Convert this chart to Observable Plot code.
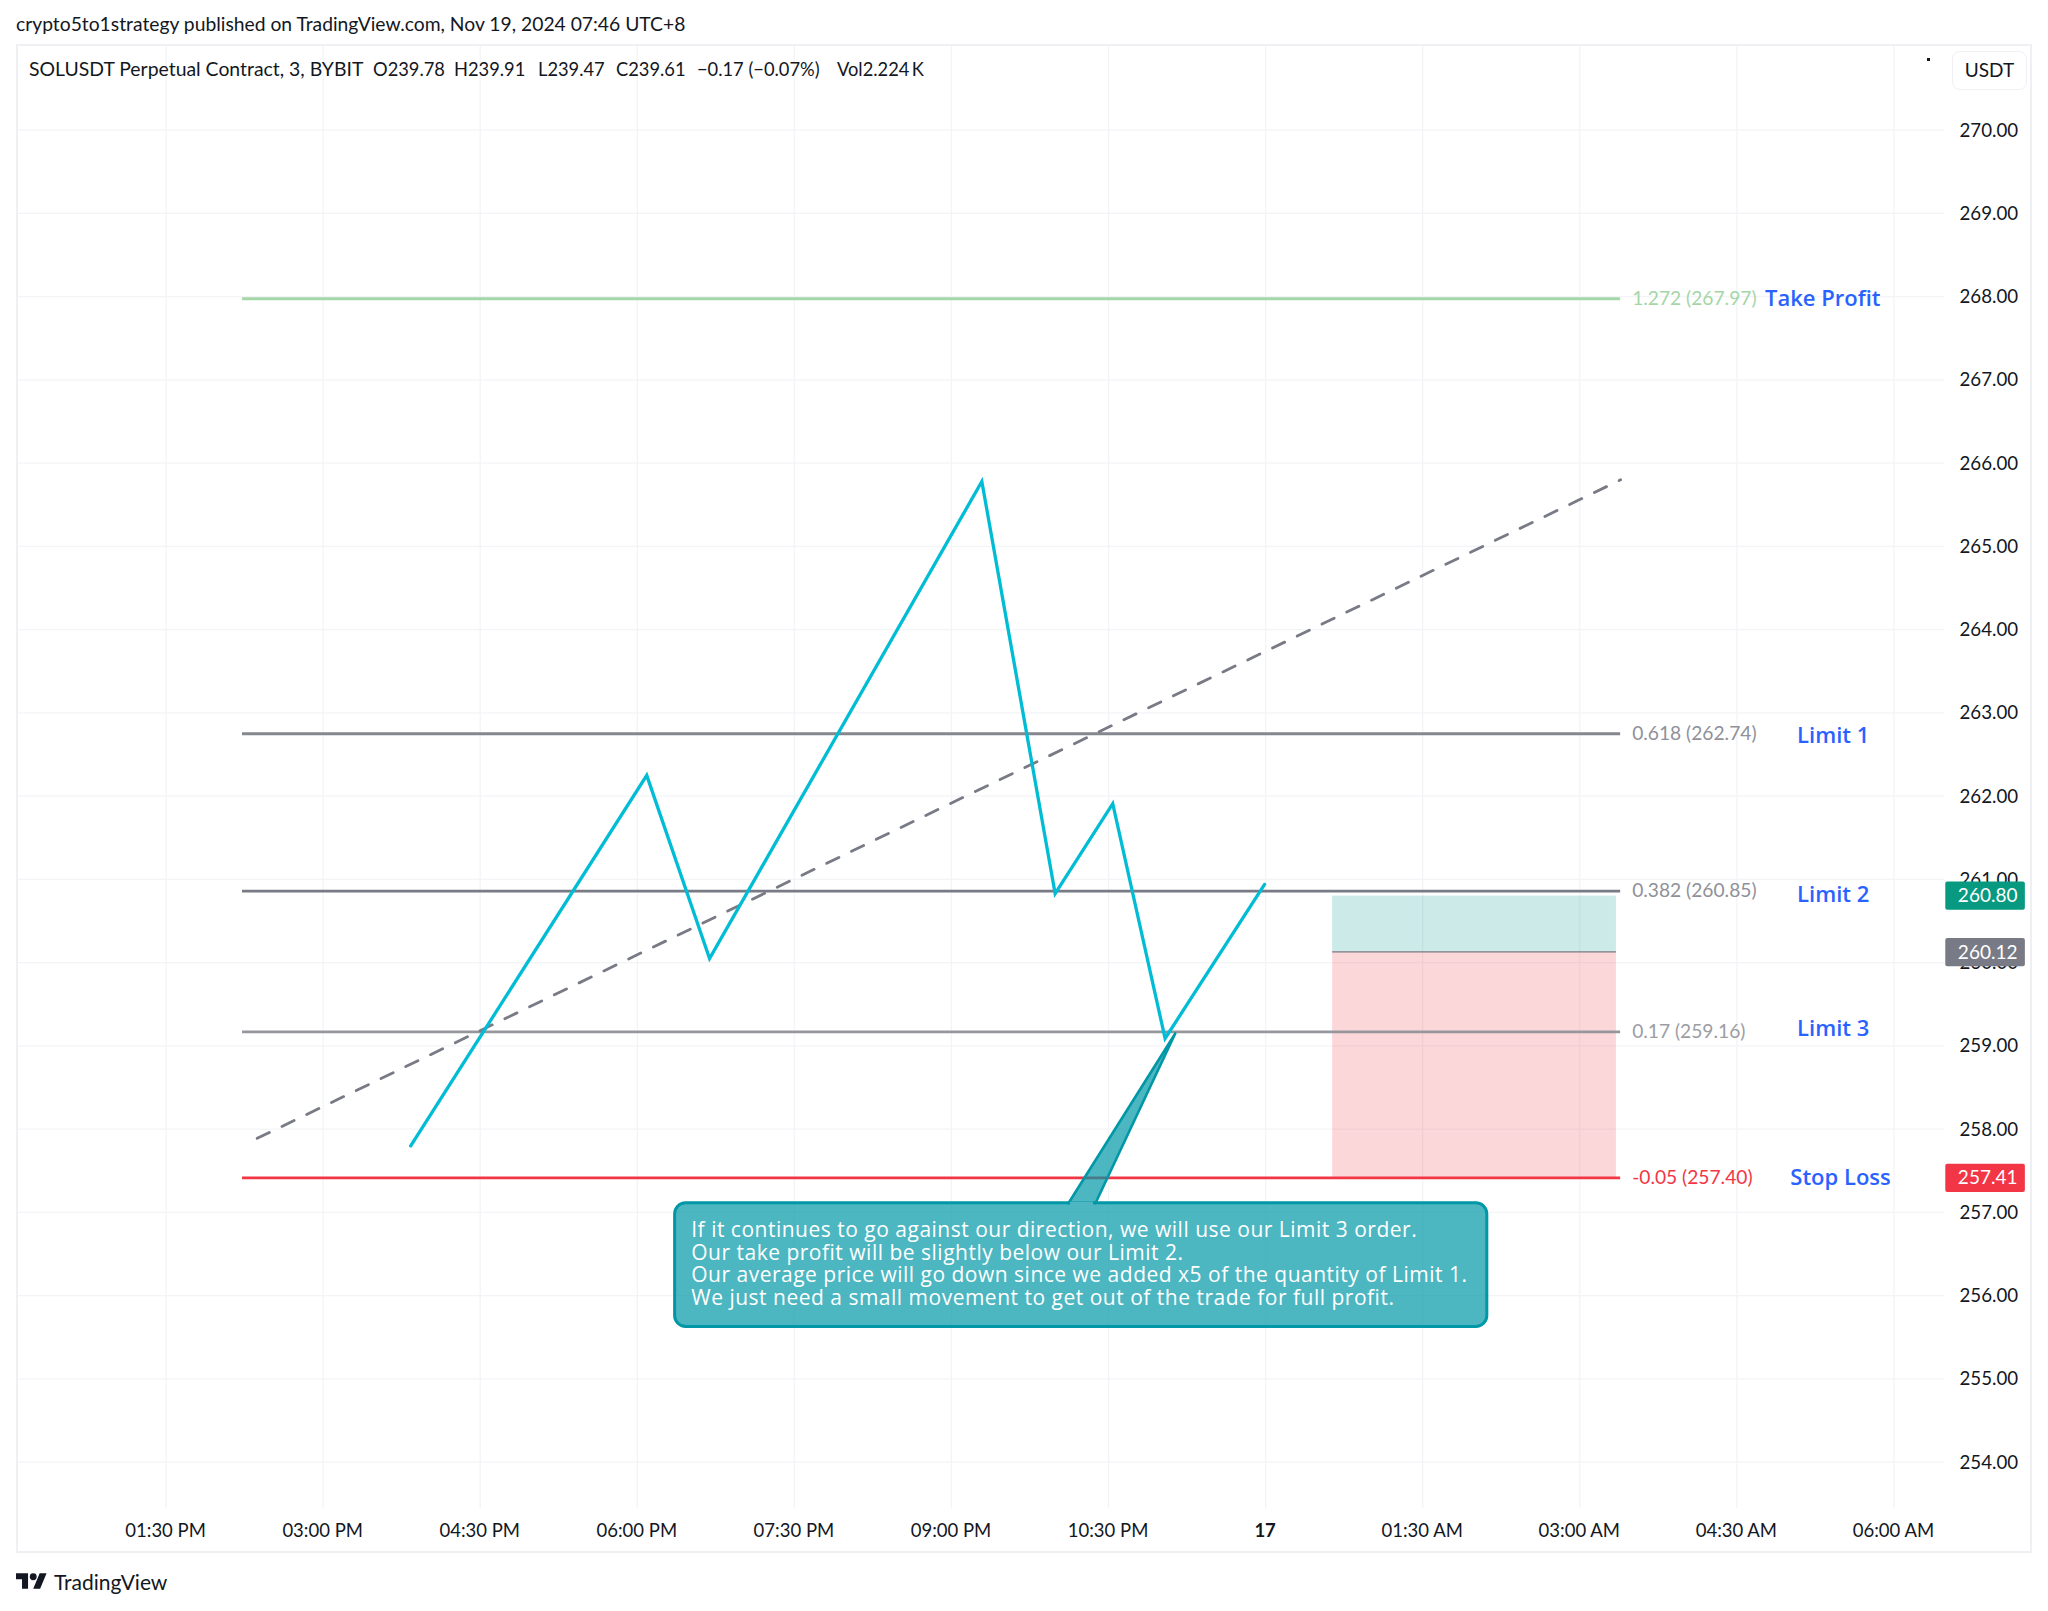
<!DOCTYPE html>
<html><head><meta charset="utf-8">
<script src="https://cdn.jsdelivr.net/npm/d3@7"></script>
<script src="https://cdn.jsdelivr.net/npm/@observablehq/plot@0.6"></script>
<style>
html,body{margin:0;padding:0;background:#fff;width:2048px;height:1611px;overflow:hidden}
body{font-family:Lato,"Noto Sans",sans-serif;color:#131722;position:relative}
#head{position:absolute;left:16px;top:12px;font-size:19.3px;line-height:24px;white-space:pre}
#wrap{position:absolute;left:16px;top:44px;width:2016px;height:1509px}
#frame{position:absolute;left:16px;top:44px;width:2016px;height:1509px;box-sizing:border-box;border:2px solid #eff0f3;pointer-events:none}
#legend span{position:absolute;top:57px;font-size:18.3px;line-height:24px;white-space:pre}
#legend span:first-child{font-size:19.4px}
#unit{position:absolute;left:1952px;top:51px;width:75px;height:39px;box-sizing:border-box;border:1.5px solid #eff0f3;border-radius:8px;background:#fff;font-size:19px;line-height:36px;text-align:center}
#dot{position:absolute;left:1927px;top:58px;width:3px;height:3px;background:#131722}
#foot{position:absolute;left:16px;top:1569px;height:24px;display:flex;align-items:center;font-size:21px;white-space:pre}
#foot svg{margin-right:7px}
</style></head><body>
<div id="head"></div>
<div id="wrap"></div>
<div id="frame"></div>
<div id="legend"></div>
<div id="unit"></div>
<div id="dot"></div>
<div id="foot"><svg width="31" height="16" viewBox="0 4 36 18" fill="#131722"><path d="M14 22H7V11H0V4h14v18zM28 22h-8l7.5-18h8L28 22z"/><circle cx="20" cy="8" r="4"/></svg><span id="brand"></span></div>
<script>
const publishedLine = "crypto5to1strategy published on TradingView.com, Nov 19, 2024 07:46 UTC+8";
const legendParts = ["SOLUSDT Perpetual Contract, 3, BYBIT", "O239.78", "H239.91", "L239.47", "C239.61", "\u22120.17 (\u22120.07%)", "Vol2.224\u2009K"];
const legendLefts = [29, 373, 454, 538, 616, 697, 837];
const unitLabel = "USDT";
const brandLabel = "TradingView";

// x is hours after 01:30 PM on Nov 16
const timeTicks = [0, 1.5, 3, 4.5, 6, 7.5, 9, 10.5, 12, 13.5, 15, 16.5];
const timeLabels = ["01:30 PM","03:00 PM","04:30 PM","06:00 PM","07:30 PM","09:00 PM","10:30 PM","17","01:30 AM","03:00 AM","04:30 AM","06:00 AM"];
const priceTicks = [254,255,256,257,258,259,260,261,262,263,264,265,266,267,268,269,270];

const zigHours = [2.336, 4.59, 5.19, 7.79, 8.49, 9.04, 9.54, 10.49];
const zigPrices = [257.80, 262.25, 260.05, 265.78, 260.83, 261.91, 259.09, 260.94];

const trendHours = [0.87, 13.89];
const trendPrices = [257.89, 265.80];

const fibRatios = ["1.272", "0.618", "0.382", "0.17", "-0.05"];
const fibPrices = [267.97, 262.74, 260.85, 259.16, 257.40];
const fibLineYs = [267.975, 262.75, 260.86, 259.17, 257.415];
const fibLineColors = ["#a5d6a7", "#85878f", "#787b86", "#95979c", "#f23645"];
const fibTextColors = ["#a5d6a7", "#8f9198", "#8f9198", "#9b9da3", "#f23645"];
const fibStart = 0.73, fibEnd = 13.89, fibLabelAt = 14.0;

const noteTexts = ["Take Profit", "Limit 1", "Limit 2", "Limit 3", "Stop Loss"];
const noteHours = [15.82, 15.92, 15.92, 15.92, 15.99];
const notePrices = [267.96, 262.72, 260.80, 259.19, 257.41];

const boxStart = 11.14, boxEnd = 13.85;
const boxTop = 260.80, boxMid = 260.13, boxBottom = 257.41;

const tagPrices = [260.80, 260.12, 257.41];
const tagColors = ["#089981", "#787b86", "#f23645"];
const tagLeft = 16.995, tagRight = 17.755, tagHalf = 0.17, tagTextAt = 17.395;

const calloutLines = [
  "If it continues to go against our direction, we will use our Limit 3 order.",
  "Our take profit will be slightly below our Limit 2.",
  "Our average price will go down since we added x5 of the quantity of Limit 1.",
  "We just need a small movement to get out of the trade for full profit."
];
const calloutBox = {x1: 4.861, x2: 12.617, y1: 255.625, y2: 257.11};
const calloutPointerHours = [8.617, 9.637, 8.875];
const calloutPointerPrices = [257.11, 259.15, 257.11];
const calloutTextHour = 5.015, calloutTextPrice = 256.385;

const FONT = 'Lato,"Noto Sans",sans-serif';
const WIDE = '"Open Sans",Lato,sans-serif';
const INK = "#131722", GRID = "#f3f4f7", BLUE = "#2962ff", TEAL = "#00bcd4";

document.getElementById("head").textContent = publishedLine;
const legendEl = document.getElementById("legend");
legendParts.forEach((t, i) => {
  const s = document.createElement("span");
  s.textContent = t;
  s.style.left = legendLefts[i] + "px";
  legendEl.appendChild(s);
});
document.getElementById("unit").textContent = unitLabel;
document.getElementById("brand").textContent = brandLabel;

const idx = a => a.map((_, i) => i);
const labelFor = h => timeLabels[timeTicks.indexOf(h)];

const chart = Plot.plot({
  width: 2016, height: 1509,
  marginLeft: 0, marginRight: 88, marginTop: 0, marginBottom: 45,
  style: {fontFamily: FONT, fontSize: "18.5px", color: INK, background: "#fff", maxWidth: "none"},
  x: {domain: [-1.4284, 16.9828], label: null},
  y: {domain: [253.444, 271.029], label: null},
  marks: [
    Plot.gridX(timeTicks, {stroke: GRID, strokeOpacity: 1, strokeWidth: 1.3}),
    Plot.gridY(priceTicks, {stroke: GRID, strokeOpacity: 1, strokeWidth: 1.3}),
    Plot.axisX({ticks: timeTicks.filter(h => labelFor(h) !== "17"), tickSize: 0, tickPadding: 15.5, dx: -0.5, tickFormat: labelFor, label: null, fontSize: 18.5, fill: INK}),
    Plot.axisX({ticks: timeTicks.filter(h => labelFor(h) === "17"), tickSize: 0, tickPadding: 15.5, dx: -0.5, tickFormat: labelFor, label: null, fontSize: 18.5, fontWeight: "bold", fill: INK}),
    Plot.axisY({anchor: "right", ticks: priceTicks, tickSize: 0, tickPadding: 15, dy: 0.5, tickFormat: d => d.toFixed(2), label: null, fontSize: 18.7, fill: INK}),

    // position box
    Plot.rect([0], {x1: boxStart, x2: boxEnd, y1: boxMid, y2: boxTop, fill: "#009688", fillOpacity: 0.2}),
    Plot.rect([0], {x1: boxStart, x2: boxEnd, y1: boxBottom, y2: boxMid, fill: "#f23645", fillOpacity: 0.2}),
    Plot.ruleY([boxMid], {x1: boxStart, x2: boxEnd, stroke: "#787b86", strokeWidth: 1.3}),

    // fib levels
    Plot.ruleY(idx(fibLineYs), {y: i => fibLineYs[i], x1: fibStart, x2: fibEnd, stroke: i => fibLineColors[i], strokeWidth: 2.8}),
    Plot.text(idx(fibPrices), {x: fibLabelAt, y: i => fibLineYs[i], text: i => `${fibRatios[i]} (${fibPrices[i].toFixed(2)})`, fill: i => fibTextColors[i], textAnchor: "start", fontSize: 19.2}),
    Plot.text(idx(noteTexts), {x: i => noteHours[i], y: i => notePrices[i], text: i => noteTexts[i], fill: BLUE, fontSize: 22, fontWeight: 600, fontFamily: WIDE, dy: -0.7}),

    // trend + zigzag
    Plot.line(idx(trendHours), {x: i => trendHours[i], y: i => trendPrices[i], stroke: "#787b86", strokeWidth: 2.8, strokeDasharray: "13.5,14"}),
    Plot.line(idx(zigHours), {x: i => zigHours[i], y: i => zigPrices[i], stroke: TEAL, strokeWidth: 3.3, strokeLinejoin: "miter", strokeMiterlimit: 10}),

    // callout
    Plot.line(idx(calloutPointerHours), {x: i => calloutPointerHours[i], y: i => calloutPointerPrices[i], fill: "#0097a7", fillOpacity: 0.7, stroke: "#0097a7", strokeWidth: 2.6}),
    Plot.rect([calloutBox], {x1: "x1", x2: "x2", y1: "y1", y2: "y2", fill: "#0097a7", fillOpacity: 0.7, stroke: "#0097a7", strokeWidth: 3, rx: 11}),
    Plot.ruleY([calloutBox.y2], {x1: calloutPointerHours[0] + 0.02, x2: calloutPointerHours[2] - 0.02, stroke: "#4db6c2", strokeWidth: 3.4}),
    Plot.text([calloutLines.join("\n")], {x: calloutTextHour, y: calloutTextPrice, text: d => d, fill: "#fff", textAnchor: "start", fontSize: 21, lineHeight: 1.07, fontFamily: WIDE}),

    // price tags
    Plot.rect(idx(tagPrices), {x1: tagLeft, x2: tagRight, y1: i => tagPrices[i] - tagHalf, y2: i => tagPrices[i] + tagHalf, fill: i => tagColors[i], rx: 2}),
    Plot.text(idx(tagPrices), {x: tagTextAt, y: i => tagPrices[i], text: i => tagPrices[i].toFixed(2), fill: "#fff", fontSize: 19})
  ]
});
chart.querySelectorAll("text tspan").forEach(t => { t.style.letterSpacing = "0.5px"; });
document.getElementById("wrap").appendChild(chart);
</script>
</body></html>
